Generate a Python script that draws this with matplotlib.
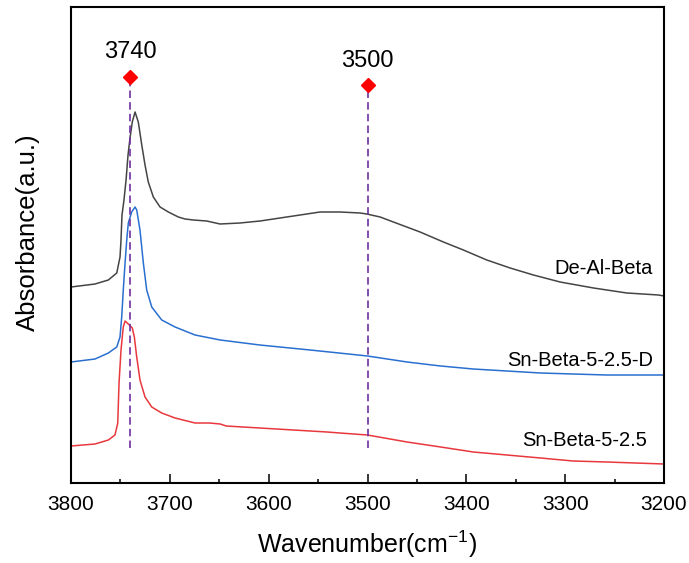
import matplotlib
matplotlib.use("Agg")
import matplotlib.pyplot as plt
from matplotlib.ticker import MultipleLocator

plt.rcParams['font.family'] = ['Liberation Sans', 'DejaVu Sans']
plt.rcParams['mathtext.fontset'] = 'custom'
plt.rcParams['mathtext.rm'] = 'Liberation Sans'
plt.rcParams['mathtext.it'] = 'Liberation Sans:italic'
plt.rcParams['mathtext.bf'] = 'Liberation Sans:bold'

# De-Al-Beta
wn_dealbeta = [3800, 3775.7, 3762.2, 3753.7, 3750.4, 3749.4, 3748.4, 3746.4, 3744.3, 3742.3,
               3740.3, 3738.0, 3735.2, 3731.9, 3728.4, 3725.1, 3721.8, 3716.7, 3709.9, 3701.5,
               3691.4, 3684.6, 3676.2, 3662.7, 3649.2, 3629.0, 3608.7, 3588.5, 3568.2, 3548.0,
               3527.7, 3507.5, 3500.7, 3487.2, 3473.8, 3446.8, 3423.2, 3403.0, 3379.3, 3355.7,
               3332.1, 3305.1, 3271.3, 3237.6, 3205.6, 3200]
ab_dealbeta = [1.96, 1.99, 2.03, 2.10, 2.26, 2.43, 2.68, 2.83, 3.03, 3.28,
               3.45, 3.61, 3.71, 3.61, 3.38, 3.18, 3.01, 2.86, 2.76, 2.71,
               2.66, 2.64, 2.63, 2.62, 2.59, 2.60, 2.62, 2.65, 2.68, 2.71,
               2.71, 2.70, 2.69, 2.66, 2.61, 2.51, 2.41, 2.33, 2.23, 2.15,
               2.08, 2.01, 1.95, 1.90, 1.88, 1.87]

# Sn-Beta-5-2.5-D
wn_snbeta_d = [3800, 3775.7, 3762.2, 3753.7, 3750.4, 3748.7, 3747.1, 3745.3, 3743.6, 3742.0,
               3738.6, 3735.2, 3733.5, 3730.2, 3726.8, 3723.4, 3718.3, 3708.2, 3694.7, 3674.5,
               3649, 3609, 3558, 3500, 3460, 3426, 3393, 3359, 3325, 3292, 3258, 3200]
ab_snbeta_d = [1.21, 1.24, 1.30, 1.36, 1.46, 1.66, 1.93, 2.20, 2.43, 2.60,
               2.71, 2.76, 2.73, 2.53, 2.20, 1.93, 1.76, 1.63, 1.56, 1.48,
               1.43, 1.38, 1.33, 1.27, 1.21, 1.17, 1.14, 1.12, 1.10, 1.09, 1.08, 1.08]

# Sn-Beta-5-2.5
wn_snbeta = [3800, 3775.7, 3762.2, 3755.5, 3752.7, 3751.4, 3749.4, 3747.1, 3745.3, 3742.0,
             3738.0, 3735.9, 3733.5, 3730.2, 3725.1, 3718.3, 3708.2, 3694.7, 3674.5, 3660,
             3649, 3643, 3609, 3575, 3541, 3528, 3500, 3460, 3426, 3393, 3359, 3325, 3292,
             3258, 3200]
ab_snbeta = [0.37, 0.39, 0.43, 0.48, 0.60, 1.00, 1.33, 1.56, 1.62, 1.59,
             1.55, 1.46, 1.26, 1.03, 0.86, 0.76, 0.70, 0.65, 0.60, 0.60,
             0.59, 0.57, 0.55, 0.53, 0.51, 0.50, 0.48, 0.41, 0.36, 0.31, 0.28, 0.25, 0.22,
             0.21, 0.19]

series_names = ["De-Al-Beta", "Sn-Beta-5-2.5-D", "Sn-Beta-5-2.5"]
series_colors = ["#454545", "#2a6fd0", "#e8383d"]

marker_wn = [3740, 3500]
marker_labels = ["3740", "3500"]
marker_top = [4.06, 3.98]
marker_text_y = [4.31, 4.22]
marker_bottom = 0.35

fig = plt.figure(figsize=(6.89, 5.63), dpi=100)
ax = fig.add_axes([71/689, 1-483/563, (664-71)/689, (483-7)/563])

for wn, ab, c in zip([wn_dealbeta, wn_snbeta_d, wn_snbeta],
                     [ab_dealbeta, ab_snbeta_d, ab_snbeta], series_colors):
    ax.plot(wn, ab, color=c, lw=1.1)

for w, lab, top, ty in zip(marker_wn, marker_labels, marker_top, marker_text_y):
    ax.plot([w, w], [marker_bottom, top], color="#7030a0", lw=1.2, ls=(0, (4.5, 2.5)))
    ax.plot([w], [top], marker="D", color="#ff0000", ms=7, mec="#ff0000")
    ax.text(w, ty, lab, ha="center", va="center", fontsize=17)

label_pos = [(3211, 2.15), (3211, 1.23), (3217, 0.42)]
for (x, y), name in zip(label_pos, series_names):
    ax.text(x, y, name, ha="right", va="center", fontsize=14.5)

ax.set_xlim(3800, 3200)
ax.set_ylim(0, 4.76)
ax.xaxis.set_major_locator(MultipleLocator(100))
ax.xaxis.set_minor_locator(MultipleLocator(50))
ax.tick_params(axis="x", which="major", direction="in", length=6.5, width=1.1, labelsize=15, pad=9)
ax.tick_params(axis="x", which="minor", direction="in", length=3, width=1.1)
ax.set_yticks([])
for s in ax.spines.values():
    s.set_linewidth(1.5)

ax.set_xlabel("Wavenumber(cm$^{\\mathregular{-1}}$)", fontsize=18, labelpad=10)
ax.set_ylabel("Absorbance(a.u.)", fontsize=18.5)
ax.yaxis.set_label_coords(-0.052, 0.527)

fig.savefig("out.png", dpi=100)
